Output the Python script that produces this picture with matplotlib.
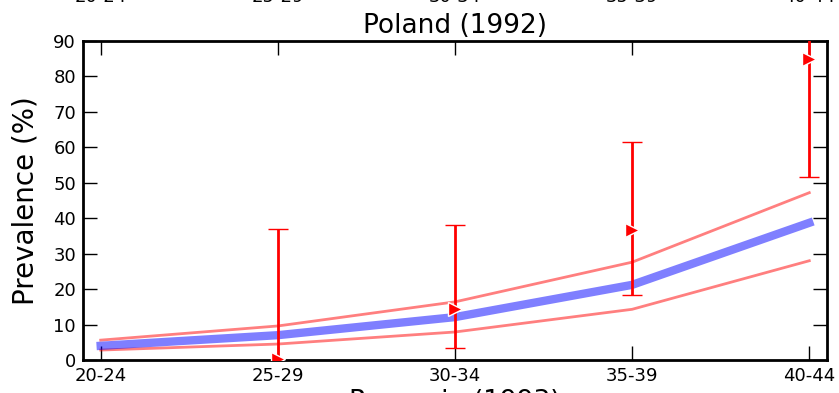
import numpy as np
import matplotlib
matplotlib.use("Agg")
import matplotlib.pyplot as plt

# age groups on the x axis
age_groups = ["20-24", "25-29", "30-34", "35-39", "40-44"]

# model mean and uncertainty band
model_mean = [4.0, 7.0, 12.1, 21.2, 38.7]
model_upper = [5.6, 9.6, 16.4, 27.6, 47.2]
model_lower = [2.8, 4.5, 7.9, 14.3, 28.0]

# observed data with error bars (age groups 25-29 .. 40-44)
obs_idx = [1, 2, 3, 4]
obs_value = [0.4, 14.3, 36.7, 84.8]
obs_low = [-1.0, 3.3, 18.2, 51.7]
obs_high = [37.0, 38.1, 61.6, 105.0]

title = "Poland (1992)"
next_title = "Romania (1993)"

fig = plt.figure(figsize=(8.39, 3.93), dpi=100)
ax = fig.add_axes([0.0989, 0.084, 0.8868, 0.8117])

x = np.arange(len(age_groups))
ax.plot(x, model_upper, color="red", alpha=0.5, linewidth=2)
ax.plot(x, model_lower, color="red", alpha=0.5, linewidth=2)
ax.plot(x, model_mean, color="blue", alpha=0.5, linewidth=6, zorder=3)

val = np.array(obs_value)
yerr = [val - np.array(obs_low), np.array(obs_high) - val]
ax.errorbar(obs_idx, val, yerr=yerr, fmt=">", color="red", ecolor="red",
            markersize=10, markeredgecolor="white", markeredgewidth=1,
            elinewidth=2, capsize=7, capthick=1.5, zorder=4, clip_on=True)

ax.set_xlim(-0.1, 4.1)
ax.set_ylim(0, 90)
ax.set_xticks(x)
ax.set_xticklabels(age_groups)
ax.set_yticks(np.arange(0, 91, 10))
ax.tick_params(direction="in", length=10, width=1, top=True, right=True,
               labelsize=13, pad=5)
for s in ax.spines.values():
    s.set_linewidth(2)
ax.set_ylabel("Prevalence (%)", fontsize=20, labelpad=10)
ax.set_title(title, fontsize=19, pad=6)

# pieces of the neighbouring subplots, cut by the figure edge
for i, lab in enumerate(age_groups):
    xf = 0.0989 + 0.8868 * (x[i] + 0.1) / 4.2
    fig.text(xf, 1 - 2 / 393, lab, ha="center", va="baseline", fontsize=13)
fig.text(0.0989 + 0.8868 / 2, -0.055, next_title, ha="center", va="bottom", fontsize=19)

fig.savefig("out.png", dpi=100)
